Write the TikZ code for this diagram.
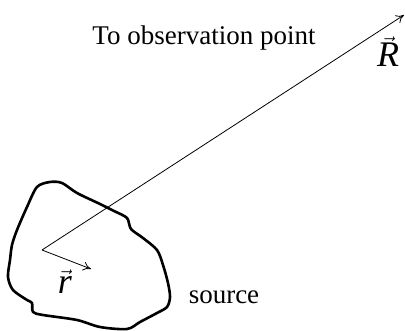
\documentclass[tikz,border=0pt]{standalone}
\usepackage{fontspec}
\setmainfont{Liberation Serif}
\usetikzlibrary{arrows.meta}
\tikzset{
  vec/.style={line width=0.8pt,-{To[length=8pt,width=9pt]}},
  blob/.style={line width=2.6pt,line join=round},
  lbl/.style={inner sep=0pt,font=\fontsize{27}{31}\selectfont},
  sym/.style={inner sep=0pt,anchor=base,font=\fontsize{36}{40}\selectfont}
}
\begin{document}
\begin{tikzpicture}[x=1pt,y=-1pt]
\useasboundingbox (0,0) rectangle (405,331);
\draw[blob] plot[smooth cycle,tension=0.5] coordinates {
 (50,182) (62,183) (77,193) (100,204) (114,211) (127,218) (131,229) (143,238)
 (157,250) (163,265) (168,283) (170,297) (167,307) (157,313) (140,322)
 (127,329) (100,327) (77,320) (43,315) (33,312) (32,303) (27,300)
 (13,290) (8,277) (10,260) (12,245) (17,230) (27,207) (37,187)};
\coordinate (o) at (42,250);
\coordinate (Rt) at (404,15);
\coordinate (rt) at (91,269);
\draw[vec] (o) -- (Rt);
\draw[vec] (o) -- (rt);
\node[lbl] (obs) at (204,38) {To observation point};
\node[lbl] (src) at (224,297) {source};
\node[sym] (R) at (388,67) {$\vec{\mbox{\itshape R}}$};
\node[sym] (r) at (65,294) {$\vec{\mbox{\itshape r}}$};
\end{tikzpicture}
\end{document}
